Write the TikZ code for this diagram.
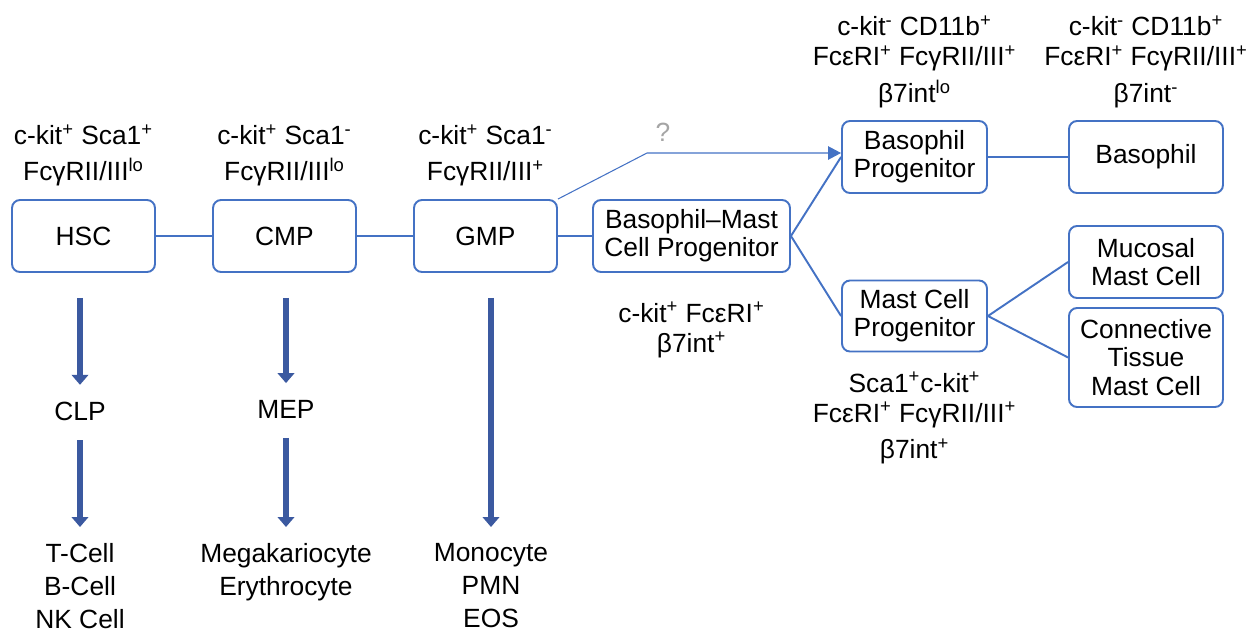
\documentclass[tikz,border=0pt]{standalone}
\usepackage{fontspec}
\setmainfont{Liberation Sans}
\usetikzlibrary{positioning,arrows.meta}
\definecolor{boxblue}{RGB}{68,114,196}
\definecolor{arrowblue}{RGB}{59,89,160}
\definecolor{qgray}{RGB}{165,165,165}
\newcommand{\supr}[1]{\textsuperscript{#1}}

\begin{document}
\begin{tikzpicture}[x=0.02cm, y=-0.02cm,
  cell/.style={rectangle, draw=boxblue, line width=1.1pt, rounded corners=0.16cm, align=center, minimum height=1.44cm, inner sep=0pt, font=\fontsize{15}{15.8}\selectfont},
  marker/.style={align=center, inner sep=0pt, font=\fontsize{15}{17}\selectfont},
  fate/.style={align=center, inner sep=0pt, font=\fontsize{15}{18.7}\selectfont},
  link/.style={draw=boxblue, line width=1.1pt},
  fatearrow/.style={draw=arrowblue, line width=0.12cm, -{Triangle[width=0.33cm,length=0.2cm]}}]

\useasboundingbox (0,0) rectangle (1259,632);

\node[cell, minimum width=2.86cm] (hsc) at (83.5,236) {HSC};
\node[cell, minimum width=2.86cm] (cmp) at (284.5,236) {CMP};
\node[cell, minimum width=2.86cm] (gmp) at (485.5,236) {GMP};
\node[cell, minimum width=3.94cm] (bmcp) at (691.5,236) {Basophil–Mast\\Cell Progenitor};
\node[cell, minimum width=2.9cm] (bprog) at (914.5,157) {Basophil\\Progenitor};
\node[cell, minimum width=3.08cm] (baso) at (1146,157) {Basophil};
\node[cell, minimum width=2.9cm, minimum height=1.42cm] (mcp) at (914.5,316) {Mast Cell\\Progenitor};
\node[cell, minimum width=3.08cm] (mucosal) at (1146,262) {Mucosal\\Mast Cell};
\node[cell, minimum width=3.08cm, minimum height=1.98cm, font=\fontsize{15}{16.2}\selectfont] (connective) at (1146,357.5) {Connective\\Tissue\\Mast Cell};

\node[marker, above=0.26cm of hsc, font=\fontsize{15}{20.4}\selectfont] (hscm) {c-kit\supr{+} Sca1\supr{+}\\FcγRII/III\supr{lo}};
\node[marker, above=0.26cm of cmp, font=\fontsize{15}{20.4}\selectfont] (cmpm) {c-kit\supr{+} Sca1\supr{-}\\FcγRII/III\supr{lo}};
\node[marker, above=0.26cm of gmp, font=\fontsize{15}{20.4}\selectfont] (gmpm) {c-kit\supr{+} Sca1\supr{-}\\FcγRII/III\supr{+}};
\node[marker, below=0.58cm of bmcp] (bmcpm) {c-kit\supr{+} FcεRI\supr{+}\\β7int\supr{+}};
\node[marker, above=0.24cm of bprog] (bprogm) {c-kit\supr{-} CD11b\supr{+}\\FcεRI\supr{+} FcγRII/III\supr{+}\\[4pt]β7int\supr{lo}};
\node[marker, above=0.24cm of baso] (basom) {c-kit\supr{-} CD11b\supr{+}\\FcεRI\supr{+} FcγRII/III\supr{+}\\[4pt]β7int\supr{-}};
\node[marker, below=0.39cm of mcp] (mcpm) {Sca1\supr{+}c-kit\supr{+}\\FcεRI\supr{+} FcγRII/III\supr{+}\\[4pt]β7int\supr{+}};

\node[fate] (clp) at (80,411) {CLP};
\node[fate] (mep) at (286,409) {MEP};
\node[fate, anchor=north] (lymph) at (80,543.5) {T-Cell\\B-Cell\\NK Cell};
\node[fate, anchor=north] (ery) at (286,543.5) {Megakariocyte\\Erythrocyte};
\node[fate, anchor=north] (myelo) at (491,543.5) {Monocyte\\PMN\\EOS};

\draw[link] (hsc) -- (cmp);
\draw[link] (cmp) -- (gmp);
\draw[link] (gmp) -- (bmcp);
\draw[link] (bmcp.east) -- (bprog.west);
\draw[link] (bmcp.east) -- (mcp.west);
\draw[link] (bprog) -- (baso);
\draw[link] (mcp.east) -- (mucosal.west);
\draw[link] (mcp.east) -- (connective.west);

\coordinate (bend) at (647,153);
\draw[boxblue, line width=0.6pt, -{Triangle[width=0.27cm,length=0.26cm]}] (gmp.north east) -- (bend) -- ([yshift=0.08cm]bprog.west);
\node[text=qgray, font=\fontsize{15}{17}\selectfont] (q) at (663,132) {?};

\draw[fatearrow, shorten <=0.5cm, shorten >=0.33cm] (hsc.south -| clp) -- (clp.north);
\draw[fatearrow, shorten <=0.39cm, shorten >=0.33cm] (clp.south) -- (lymph.north);
\draw[fatearrow, shorten <=0.5cm, shorten >=0.33cm] (cmp.south -| mep) -- (mep.north);
\draw[fatearrow, shorten <=0.39cm, shorten >=0.33cm] (mep.south) -- (ery.north);
\draw[fatearrow, shorten <=0.5cm, shorten >=0.33cm] (gmp.south -| myelo) -- (myelo.north);

\end{tikzpicture}
\end{document}
